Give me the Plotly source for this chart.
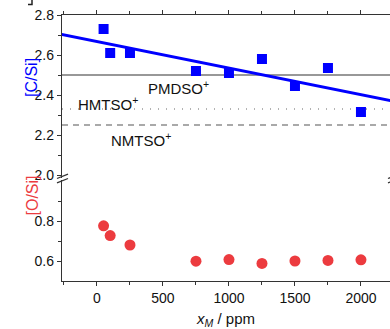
import numpy as np
import plotly.graph_objects as go

# ---- data ----
x_ppm = [50, 100, 250, 750, 1000, 1250, 1500, 1750, 2000]
c_si = [2.73, 2.61, 2.61, 2.52, 2.51, 2.58, 2.445, 2.535, 2.315]
o_si = [0.776, 0.727, 0.680, 0.599, 0.607, 0.588, 0.600, 0.603, 0.606]

ref_names = ["PMDSO<sup>+</sup>", "HMTSO<sup>+</sup>", "NMTSO<sup>+</sup>"]
ref_values = [2.50, 2.33, 2.25]

x_ticks = [0, 500, 1000, 1500, 2000]
top_ticks = [2.0, 2.2, 2.4, 2.6, 2.8]
bot_ticks = [0.6, 0.8]

FONT = "Liberation Sans, Arial, sans-serif"
AX = "#333333"
BLUE = "#0000FF"
RED = "#EC3B3F"

W, H = 390, 329
L, R, T, B = 62, 0, 15, 48
pw, ph = W - L - R, H - T - B

def px(xp):
    return (xp - L) / pw

def py(yp):
    return (H - B - yp) / ph

# linear fit to [C/Si]
slope, icpt = np.polyfit(x_ppm, c_si, 1)
fit_x = np.array([-400.0, 2400.0])
fit_y = slope * fit_x + icpt

fig = go.Figure()

fig.add_trace(go.Scatter(x=fit_x, y=fit_y, mode="lines", xaxis="x2", yaxis="y2",
                         line=dict(color=BLUE, width=3), showlegend=False, hoverinfo="skip"))
fig.add_trace(go.Scatter(x=x_ppm, y=c_si, mode="markers", xaxis="x2", yaxis="y2",
                         marker=dict(symbol="square", size=10, color=BLUE, line=dict(width=0)),
                         showlegend=False))
fig.add_trace(go.Scatter(x=x_ppm, y=o_si, mode="markers", xaxis="x", yaxis="y",
                         marker=dict(symbol="circle", size=11, color=RED, line=dict(width=0)),
                         showlegend=False))

xr = [-265, 2220]
top_dom = [py(177.5), 1]
bot_dom = [0, py(180)]
top_range = [2.8 - (177.5 - 15) / 200, 2.8]
bot_range = [0.5, 0.5 + (281 - 180) / 200]

axis_common = dict(showline=True, linecolor=AX, linewidth=1.3, ticks="outside",
                   ticklen=4, tickwidth=1.3, tickcolor=AX, showgrid=False, zeroline=False,
                   tickfont=dict(family=FONT, size=14, color="#111"))

fig.update_layout(
    width=W, height=H,
    margin=dict(l=L, r=R, t=T, b=B),
    paper_bgcolor="white", plot_bgcolor="white",
    xaxis=dict(**axis_common, range=xr, anchor="y", domain=[0, 1],
               tickvals=x_ticks, ticktext=[str(v) for v in x_ticks],
               minor=dict(dtick=250, tick0=0, ticklen=3, tickwidth=1.3, tickcolor=AX, ticks="outside"),
               title=dict(text="<i>x<sub>M</sub></i> / ppm", font=dict(family=FONT, size=15, color="#111"),
                          standoff=8)),
    xaxis2=dict(**axis_common, range=xr, anchor="y2", side="top", matches="x",
                tickvals=x_ticks, showticklabels=False,
                minor=dict(dtick=250, tick0=0, ticklen=3, tickwidth=1.3, tickcolor=AX, ticks="outside")),
    yaxis=dict(**axis_common, range=bot_range, domain=bot_dom, anchor="x",
               tickvals=bot_ticks, ticktext=["%.1f" % v for v in bot_ticks],
               minor=dict(tickvals=[0.7, 0.9], ticklen=3, tickwidth=1.3, tickcolor=AX, ticks="outside")),
    yaxis2=dict(**axis_common, range=top_range, domain=top_dom, anchor="x2",
                tickvals=top_ticks, ticktext=["%.1f" % v for v in top_ticks],
                minor=dict(tickvals=[2.1, 2.3, 2.5, 2.7], ticklen=3, tickwidth=1.3, tickcolor=AX, ticks="outside")),
)

# reference lines
styles = [dict(color="#333333", width=1.2, dash="solid"),
          dict(color="#666666", width=1.2, dash="1px,7px"),
          dict(color="#555555", width=1.2, dash="6px,5px")]
for val, st in zip(ref_values, styles):
    fig.add_shape(type="line", xref="x2 domain", yref="y2", x0=0, x1=1, y0=val, y1=val,
                  line=st, layer="below")

# reference labels
label_pos = [(614, 2.44), (83, 2.36), (333, 2.18)]
for name, (lx, ly) in zip(ref_names, label_pos):
    fig.add_annotation(x=lx, y=ly, xref="x2", yref="y2", text=name, showarrow=False,
                       font=dict(family=FONT, size=15, color="#111"))

# axis titles
fig.add_annotation(x=px(21), y=py(56), xref="paper", yref="paper", text="[C/Si]", textangle=-90,
                   showarrow=False, font=dict(family=FONT, size=16, color=BLUE))
fig.add_annotation(x=px(21), y=py(218), xref="paper", yref="paper", text="[O/Si]", textangle=-90,
                   showarrow=False, font=dict(family=FONT, size=16, color=RED))

# axis break marks
for yc in (176.3, 180.7):
    fig.add_shape(type="line", xref="paper", yref="paper",
                  x0=px(57), x1=px(68), y0=py(yc + 2.2), y1=py(yc - 2.2),
                  line=dict(color=AX, width=1.3))
    fig.add_shape(type="line", xref="paper", yref="paper",
                  x0=px(388), x1=px(399), y0=py(yc + 2.2), y1=py(yc - 2.2),
                  line=dict(color=AX, width=1.3))

# fragment of bracket at top-left
fig.add_shape(type="path", xref="paper", yref="paper",
              path="M %f %f L %f %f L %f %f" % (px(32), py(-2), px(32), py(4.5), px(28), py(4.5)),
              line=dict(color="#222", width=1.5))

fig.write_html("out.html")
